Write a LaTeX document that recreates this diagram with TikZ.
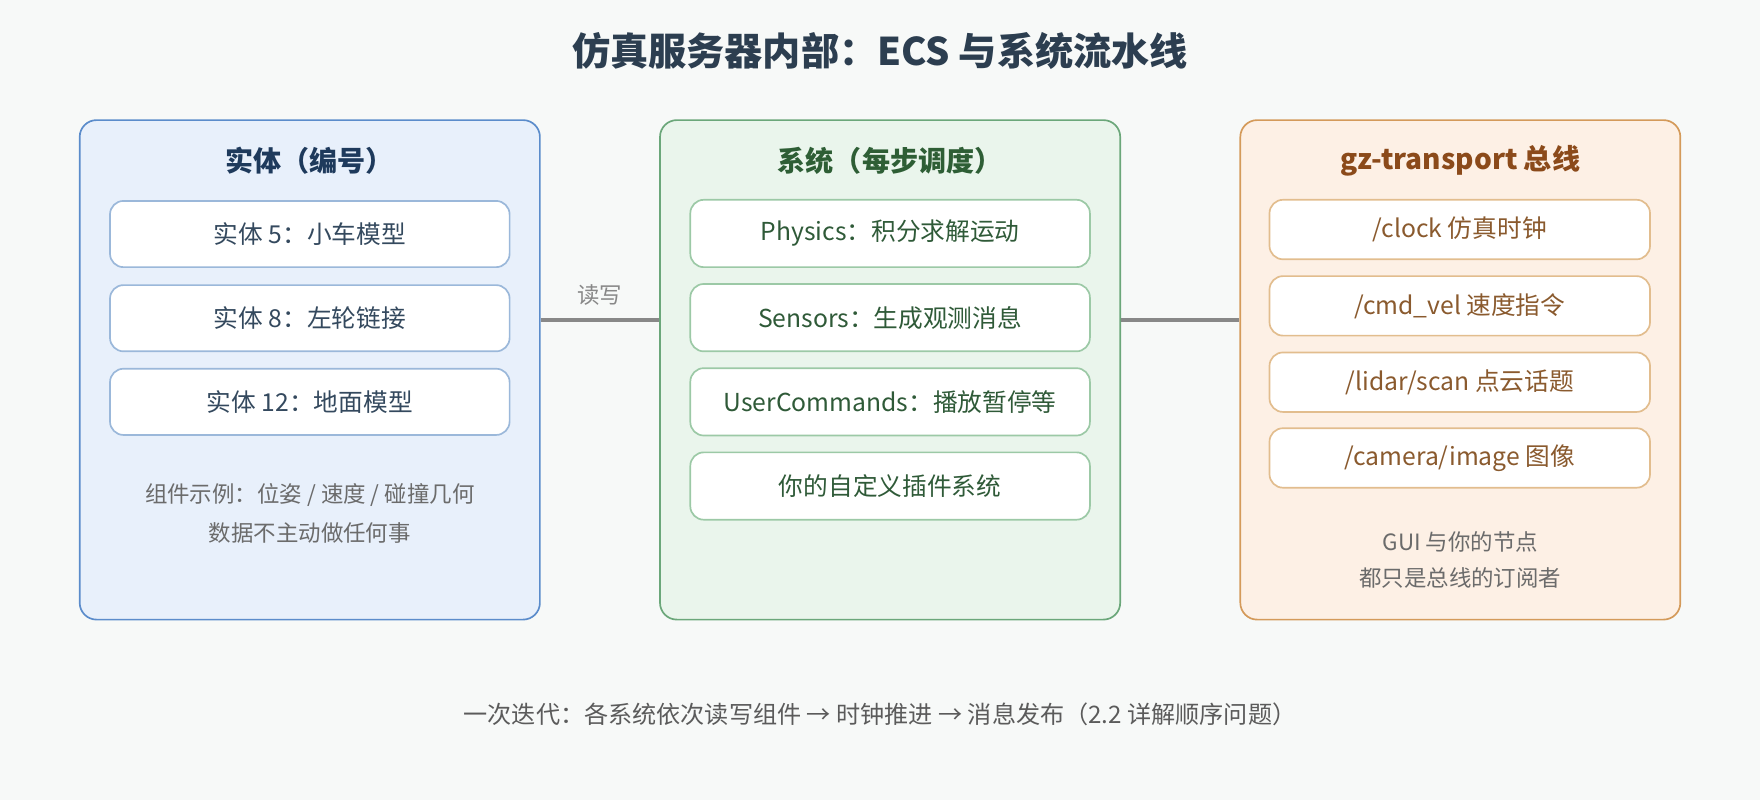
\documentclass[tikz,border=0pt]{standalone}
\usepackage{fontspec}
\setmainfont{Noto Sans CJK SC}
\definecolor{bg}{HTML}{F7F9F8}
\definecolor{bluefill}{HTML}{E8F0FB}
\definecolor{blueline}{HTML}{5B8CCB}
\definecolor{blueinner}{HTML}{9BB8DA}
\definecolor{bluetitle}{HTML}{1E3A5C}
\definecolor{bluetext}{HTML}{34495E}
\definecolor{greenfill}{HTML}{EAF5EC}
\definecolor{greenline}{HTML}{6BA77A}
\definecolor{greeninner}{HTML}{9CC9A6}
\definecolor{greentitle}{HTML}{2E5E35}
\definecolor{greentext}{HTML}{2F5A38}
\definecolor{orangefill}{HTML}{FDF0E5}
\definecolor{orangeline}{HTML}{D49A5A}
\definecolor{orangeinner}{HTML}{E2BD8E}
\definecolor{orangetitle}{HTML}{8B4A1A}
\definecolor{orangetext}{HTML}{8A5A2E}
\definecolor{notegray}{HTML}{6B6B6B}
\definecolor{conngray}{HTML}{888888}
\definecolor{titlecol}{HTML}{2C3E50}
\begin{document}
\begin{tikzpicture}[x=1pt,y=-1pt,
  panel/.style={draw, line width=1.5pt, rounded corners=15pt, minimum height=445pt, inner sep=0pt},
  item/.style={draw, fill=white, line width=1.5pt, rounded corners=12pt, inner sep=0pt, font=\fontsize{22}{26}\selectfont},
  bluebox/.style={item, draw=blueinner, text=bluetext, minimum width=356pt, minimum height=59pt},
  greenbox/.style={item, draw=greeninner, text=greentext, minimum width=356pt, minimum height=60pt},
  orangebox/.style={item, draw=orangeinner, text=orangetext, minimum width=339pt, minimum height=53pt},
  paneltitle/.style={font=\fontsize{25}{30}\selectfont\bfseries},
  note/.style={text=notegray, align=center},
  conn/.style={draw=conngray, line width=3.5pt}
]
\fill[bg] (0,0) rectangle (1568,713);
\useasboundingbox (0,0) rectangle (1568,713);

\node[text=titlecol, font=\fontsize{34}{40}\selectfont\bfseries] (title) at (784,45) {仿真服务器内部：ECS 与系统流水线};

% panels
\node[panel, fill=bluefill, draw=blueline, minimum width=410pt] (L) at (276,329.5) {};
\node[panel, fill=greenfill, draw=greenline, minimum width=410pt] (M) at (793,329.5) {};
\node[panel, fill=orangefill, draw=orangeline, minimum width=392pt] (R) at (1301,329.5) {};

\node[paneltitle, text=bluetitle] (Lt) at (276,143) {实体（编号）};
\node[paneltitle, text=greentitle] (Mt) at (793,143) {系统（每步调度）};
\node[paneltitle, text=orangetitle] (Rt) at (1301,143) {gz-transport 总线};

% left items
\node[bluebox] (L1) at (276,208.5) {实体 5：小车模型};
\node[bluebox] (L2) at (276,283.5) {实体 8：左轮链接};
\node[bluebox] (L3) at (276,358) {实体 12：地面模型};
\node[note, font=\fontsize{20}{35}\selectfont] (Ln) at (276,457.5) {组件示例：位姿 / 速度 / 碰撞几何\\数据不主动做任何事};

% middle items
\node[greenbox] (M1) at (793,208) {Physics：积分求解运动};
\node[greenbox] (M2) at (793,283) {Sensors：生成观测消息};
\node[greenbox] (M3) at (793,358) {UserCommands：播放暂停等};
\node[greenbox] (M4) at (793,433) {你的自定义插件系统};

% right items
\node[orangebox] (R1) at (1300.5,204.5) {/clock 仿真时钟};
\node[orangebox] (R2) at (1300.5,272.5) {/cmd\_vel 速度指令};
\node[orangebox] (R3) at (1300.5,340.5) {/lidar/scan 点云话题};
\node[orangebox] (R4) at (1300.5,408) {/camera/image 图像};
\node[note, font=\fontsize{20}{32}\selectfont] (Rn) at (1301,498.5) {GUI 与你的节点\\都只是总线的订阅者};

% connectors
\coordinate (cy) at (0,285);
\draw[conn] (L.east |- cy) -- node[above=8pt, text=conngray, font=\fontsize{20}{24}\selectfont] (rw) {读写} (M.west |- cy);
\draw[conn] (M.east |- cy) -- (R.west |- cy);

\node[text=notegray!85!black, font=\fontsize{21.5}{26}\selectfont] (foot) at (784,636) {一次迭代：各系统依次读写组件 → 时钟推进 → 消息发布（2.2 详解顺序问题）};
\end{tikzpicture}
\end{document}
